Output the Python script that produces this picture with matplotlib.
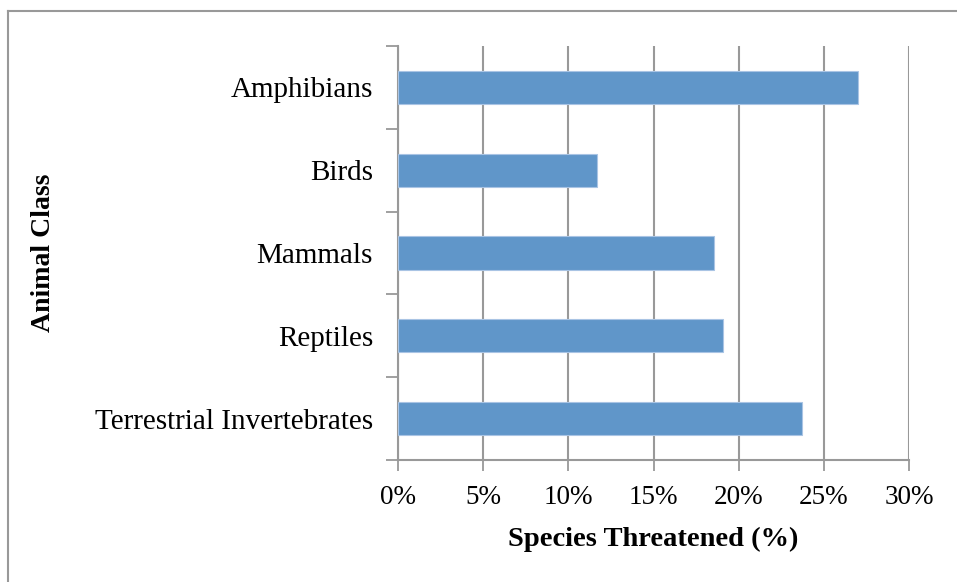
import matplotlib
matplotlib.use("Agg")
import matplotlib.pyplot as plt
import numpy as np
from matplotlib.lines import Line2D

# threatened share per animal class, in percent
classes = ["Amphibians", "Birds", "Mammals", "Reptiles", "Terrestrial Invertebrates"]
threatened = [27.0, 11.7, 18.55, 19.1, 23.7]
x_ticks = [0, 5, 10, 15, 20, 25, 30]

W, H = 957, 582
fig = plt.figure(figsize=(W / 100, H / 100), dpi=100)
ax = fig.add_axes([398 / W, 1 - 460 / H, (909 - 398) / W, (460 - 46) / H])

serif = ["Liberation Serif", "DejaVu Serif"]
grey = "#999999"
bar_color = "#6096C9"

# top category first
y = np.arange(len(classes))[::-1]
ax.barh(y, threatened, height=0.4, color=bar_color, edgecolor="#A9C4E4",
        linewidth=0.8, zorder=3)

ax.set_xlim(0, 30)
ax.set_ylim(-0.5, len(classes) - 0.5)

ax.set_xticks(x_ticks)
ax.set_xticklabels([f"{t}%" for t in x_ticks], fontfamily=serif, fontsize=19.5)
ax.set_yticks(y)
ax.set_yticklabels(classes, fontfamily=serif, fontsize=21, va="center_baseline")
ax.set_yticks(np.arange(len(classes) + 1) - 0.5, minor=True)

ax.tick_params(axis="y", which="major", length=0, pad=18)
ax.tick_params(axis="y", which="minor", length=9, width=1.3, color=grey, direction="out")
ax.tick_params(axis="x", length=8, width=1.3, color=grey, direction="out", pad=10)

ax.grid(axis="x", color=grey, linewidth=1.5, zorder=0)
for side in ["top", "right"]:
    ax.spines[side].set_visible(False)
for side in ["left", "bottom"]:
    ax.spines[side].set_color(grey)
    ax.spines[side].set_linewidth(1.5)

ax.set_xlabel("Species Threatened (%)", fontfamily=serif, fontsize=20.5,
              fontweight="bold", labelpad=12)
ax.set_ylabel("Animal Class", fontfamily=serif, fontsize=20, fontweight="bold")
ax.yaxis.set_label_coords(56 / W, 0.5 * ((1 - 460 / H) + (1 - 46 / H)), transform=fig.transFigure)

# chart frame
fig.add_artist(Line2D([8 / W, 1], [1 - 11 / H, 1 - 11 / H], transform=fig.transFigure,
                      color=grey, linewidth=1.5))
fig.add_artist(Line2D([8 / W, 8 / W], [0, 1 - 11 / H], transform=fig.transFigure,
                      color=grey, linewidth=1.5))

fig.savefig("out.png", dpi=100)
